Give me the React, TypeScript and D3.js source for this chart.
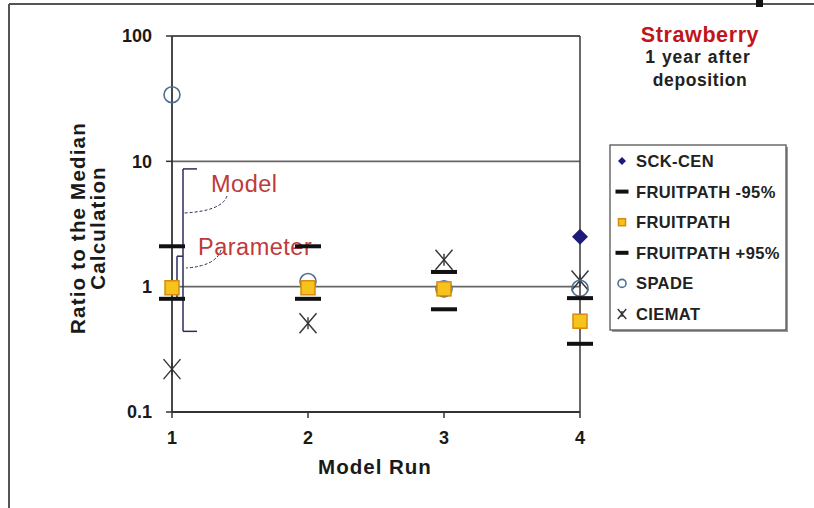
import React from "react";
import * as d3 from "d3";

// Model runs and the ratio of each model's result to the median calculation
const runs = [1, 2, 3, 4];
const sckCen: (number | null)[] = [null, null, null, 2.5];
const fruitpathLow = [0.8, 0.8, 0.66, 0.35];
const fruitpath = [0.98, 0.98, 0.96, 0.53];
const fruitpathHigh = [2.1, 2.1, 1.31, 0.81];
const spade = [34, 1.1, 0.96, 0.97];
const ciemat = [0.22, 0.51, 1.64, 1.12];

// Uncertainty ranges annotated at run 1
const modelRange = [0.44, 8.7];
const parameterRange = [0.8, 1.75];

const yTicks = [0.1, 1, 10, 100];
const yTickLabels = ["0.1", "1", "10", "100"];
const xTickLabels = ["1", "2", "3", "4"];
const gridValues = [1, 10];

const legendLabels = [
  "SCK-CEN",
  "FRUITPATH -95%",
  "FRUITPATH",
  "FRUITPATH +95%",
  "SPADE",
  "CIEMAT",
];

const FONT = "'Liberation Sans', Arial, Helvetica, sans-serif";
const W = 814;
const H = 508;

const x = d3.scaleLinear().domain([1, 4]).range([172, 580]);
const y = d3.scaleLog().domain([0.1, 100]).range([412, 36]);

type Kind = "diamond" | "dash" | "square" | "circle" | "star";

function Marker({ kind, cx, cy, s = 1 }: { kind: Kind; cx: number; cy: number; s?: number }) {
  switch (kind) {
    case "diamond": {
      const p = d3.path();
      p.moveTo(cx, cy - 8 * s);
      p.lineTo(cx + 8 * s, cy);
      p.lineTo(cx, cy + 8 * s);
      p.lineTo(cx - 8 * s, cy);
      p.closePath();
      return <path d={p.toString()} fill="#1d1a7a" />;
    }
    case "dash":
      return <rect x={cx - 13 * s} y={cy - 2} width={26 * s} height={4} fill="#111" />;
    case "square":
      return (
        <rect
          x={cx - 7 * s}
          y={cy - 7 * s}
          width={14 * s}
          height={14 * s}
          fill="#f5c31c"
          stroke="#d88a10"
          strokeWidth={1.5}
        />
      );
    case "circle":
      return <circle cx={cx} cy={cy} r={8 * s} fill="none" stroke="#4b6f93" strokeWidth={1.6} />;
    case "star": {
      const r = 10 * s;
      return (
        <g stroke="#333" strokeWidth={1.4}>
          <line x1={cx - r * 0.85} y1={cy - r} x2={cx + r * 0.85} y2={cy + r} />
          <line x1={cx - r * 0.85} y1={cy + r} x2={cx + r * 0.85} y2={cy - r} />
          <line x1={cx} y1={cy - r * 0.6} x2={cx} y2={cy + r * 0.6} />
        </g>
      );
    }
  }
}

const legendKinds: Kind[] = ["diamond", "dash", "square", "dash", "circle", "star"];

export default function App() {
  const series: { kind: Kind; values: (number | null)[] }[] = [
    { kind: "star", values: ciemat },
    { kind: "circle", values: spade },
    { kind: "dash", values: fruitpathLow },
    { kind: "dash", values: fruitpathHigh },
    { kind: "square", values: fruitpath },
    { kind: "diamond", values: sckCen },
  ];

  const mx = 183;
  const px = 177;

  const leader = (x0: number, y0: number, cx: number, cy: number, x1: number, y1: number) => {
    const p = d3.path();
    p.moveTo(x0, y0);
    p.quadraticCurveTo(cx, cy, x1, y1);
    return p.toString();
  };

  return (
    <svg
      width={W}
      height={H}
      style={{ position: "absolute", left: 0, top: 0, background: "#fff" }}
      fontFamily={FONT}
    >
      <rect width={W} height={H} fill="#fff" />

      {/* outer frame */}
      <line x1={9} y1={4} x2={W} y2={4} stroke="#555" strokeWidth={2} />
      <line x1={9} y1={4} x2={9} y2={H} stroke="#555" strokeWidth={2} />
      <rect x={756} y={0} width={7} height={7} fill="#111" />

      {/* gridlines */}
      {gridValues.map((v) => (
        <line key={v} x1={x(1)} x2={x(4)} y1={y(v)} y2={y(v)} stroke="#666" strokeWidth={1.6} />
      ))}

      {/* plot box */}
      <line x1={x(1)} x2={x(4)} y1={y(100)} y2={y(100)} stroke="#555" strokeWidth={1.8} />
      <line x1={x(4)} x2={x(4)} y1={y(100)} y2={y(0.1)} stroke="#444" strokeWidth={1.6} />
      <line x1={x(1)} x2={x(4)} y1={y(0.1)} y2={y(0.1)} stroke="#333" strokeWidth={1.8} />
      <line x1={x(1)} x2={x(1)} y1={y(100)} y2={y(0.1)} stroke="#333" strokeWidth={1.8} />

      {/* y axis ticks and labels */}
      {yTicks.map((v, i) => (
        <g key={v}>
          <line x1={x(1) - 6} x2={x(1)} y1={y(v)} y2={y(v)} stroke="#333" strokeWidth={1.5} />
          <text
            x={152}
            y={y(v)}
            dy="0.36em"
            textAnchor="end"
            fontSize={18}
            fontWeight="bold"
            fill="#1a1a1a"
          >
            {yTickLabels[i]}
          </text>
        </g>
      ))}

      {/* x axis ticks and labels */}
      {runs.map((r, i) => (
        <g key={r}>
          <line x1={x(r)} x2={x(r)} y1={y(0.1)} y2={y(0.1) + 6} stroke="#333" strokeWidth={1.5} />
          <text
            x={x(r)}
            y={444}
            textAnchor="middle"
            fontSize={18}
            fontWeight="bold"
            fill="#1a1a1a"
          >
            {xTickLabels[i]}
          </text>
        </g>
      ))}

      <text
        x={375}
        y={474}
        textAnchor="middle"
        fontSize={20.5}
        fontWeight="bold"
        fill="#1a1a1a"
        letterSpacing={1}
      >
        Model Run
      </text>

      <g fontSize={20.5} fontWeight="bold" fill="#1a1a1a" textAnchor="middle" letterSpacing={1.2}>
        <text transform={`translate(85,228) rotate(-90)`}>Ratio to the Median</text>
        <text transform={`translate(105,228) rotate(-90)`}>Calculation</text>
      </g>

      {/* model and parameter uncertainty brackets */}
      <g stroke="#2c2c5c" strokeWidth={1.5} fill="none">
        <line x1={mx} x2={mx} y1={y(modelRange[1])} y2={y(modelRange[0])} />
        <line x1={mx} x2={mx + 14} y1={y(modelRange[1])} y2={y(modelRange[1])} />
        <line x1={mx} x2={mx + 14} y1={y(modelRange[0])} y2={y(modelRange[0])} />
        <line x1={px} x2={px} y1={y(parameterRange[1])} y2={y(parameterRange[0])} />
        <line x1={px} x2={mx} y1={y(parameterRange[1])} y2={y(parameterRange[1])} />
        <line x1={px} x2={mx} y1={y(parameterRange[0])} y2={y(parameterRange[0])} />
      </g>
      <g stroke="#2c2c5c" strokeWidth={1} fill="none" strokeDasharray="3,2">
        <path d={leader(227, 196, 222, 211, mx + 1, 213)} />
        <path d={leader(221, 250, 216, 266, mx + 3, 268)} />
      </g>
      <g fontSize={23.5} fill="#c0393b" letterSpacing={0.5}>
        <text x={211} y={192}>Model</text>
        <text x={198} y={255}>Parameter</text>
      </g>

      {/* data markers */}
      {series.map((s, si) =>
        s.values.map((v, i) =>
          v == null ? null : <Marker key={`${si}-${i}`} kind={s.kind} cx={x(runs[i])} cy={y(v)} />
        )
      )}

      {/* title */}
      <g textAnchor="middle" fontWeight="bold">
        <text x={700} y={42} fontSize={21.5} fill="#c0161b" letterSpacing={0.6}>
          Strawberry
        </text>
        <text x={698} y={63} fontSize={17.5} fill="#222" letterSpacing={1}>
          1 year after
        </text>
        <text x={700} y={86} fontSize={17.5} fill="#222" letterSpacing={0.6}>
          deposition
        </text>
      </g>

      {/* legend */}
      <rect x={612} y={147} width={176} height={185} fill="#999" />
      <rect x={610} y={145} width={176} height={185} fill="#fff" stroke="#555" strokeWidth={1.3} />
      {legendLabels.map((label, i) => {
        const cy = 161 + i * 30.6;
        return (
          <g key={label}>
            <Marker kind={legendKinds[i]} cx={622} cy={cy} s={0.5} />
            <text
              x={636}
              y={cy}
              dy="0.36em"
              fontSize={16.5}
              fontWeight="bold"
              fill="#222"
              letterSpacing={0.4}
            >
              {label}
            </text>
          </g>
        );
      })}
    </svg>
  );
}
